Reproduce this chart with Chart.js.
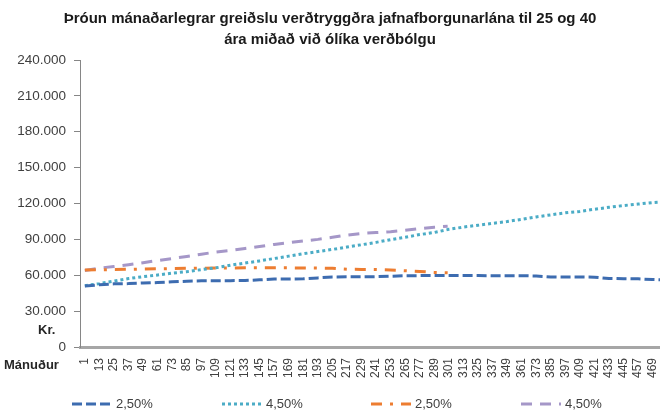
<!DOCTYPE html>
<html>
<head>
<meta charset="utf-8">
<script src="https://cdn.jsdelivr.net/npm/chart.js@4"></script>
<style>
    body { margin: 0; background: #ffffff; }
</style>
</head>
<body>
<canvas id="chart" width="660" height="413"></canvas>
<script>
// mánuðir sem gildin eru lesin á (á 12 mánaða fresti)
const monthsLong = [1, 13, 25, 37, 49, 61, 73, 85, 97, 109, 121, 133, 145, 157, 169, 181, 193, 205, 217, 229,
    241, 253, 265, 277, 289, 301, 313, 325, 337, 349, 361, 373, 385, 397, 409, 421, 433, 445, 457, 469, 480];
const monthsShort = [1, 13, 25, 37, 49, 61, 73, 85, 97, 109, 121, 133, 145, 157, 169, 181, 193, 205, 217, 229,
    241, 253, 265, 277, 289, 300];
const tickMonths = [1, 13, 25, 37, 49, 61, 73, 85, 97, 109, 121, 133, 145, 157, 169, 181, 193, 205, 217, 229,
    241, 253, 265, 277, 289, 301, 313, 325, 337, 349, 361, 373, 385, 397, 409, 421, 433, 445, 457, 469];
const yTicks = [0, 30000, 60000, 90000, 120000, 150000, 180000, 210000, 240000];

const seriesLabels = ["2,50%", "4,50%", "2,50%", "4,50%"];

// 40 ára lán
const loan40Low = [51000, 52000, 52800, 53000, 53500, 53900, 54500, 55000, 55300, 55400, 55500, 55600, 56200, 56800,
    56800, 57000, 57800, 58600, 58700, 58700, 58800, 59200, 59600, 59700, 59700, 59700, 59700, 59700, 59600, 59600,
    59600, 59400, 58600, 58500, 58500, 58400, 57300, 57100, 57000, 56400, 56100];
const loan40High = [51300, 53000, 55200, 57200, 58800, 60200, 61800, 63000, 64700, 66200, 68400, 70200, 72000, 74000,
    76000, 78000, 79800, 81600, 83600, 85500, 87500, 89800, 91800, 94000, 95800, 98400, 100300, 101800, 103400, 104900,
    106800, 108800, 110500, 112200, 113400, 115200, 116800, 118300, 119500, 120800, 121500];
// 25 ára lán
const loan25Low = [64300, 64600, 64800, 65000, 65200, 65400, 65600, 65800, 65900, 66000, 66100, 66200, 66200, 66200,
    66200, 66100, 66000, 65800, 65000, 64900, 64800, 64400, 63800, 63200, 62400, 62000];
const loan25High = [64000, 66000, 67300, 68800, 70500, 72300, 74000, 75700, 77600, 79400, 80700, 82400, 84000, 85800,
    87200, 88600, 90000, 91700, 93600, 95000, 95700, 96400, 97600, 98900, 100200, 101000];

function points(months, values) {
    return months.map((m, i) => ({ x: m, y: values[i] }));
}

function thousands(v) {
    return String(v).replace(/\B(?=(\d{3})+(?!\d))/g, ".");
}

// ásaheiti og skýringar teiknuð á föstum stöðum eins og í Excel
const extras = {
    id: "extras",
    afterDraw(chart) {
        const ctx = chart.ctx;
        ctx.save();
        ctx.fillStyle = "#262626";
        ctx.font = "bold 13px 'Liberation Sans'";
        ctx.textBaseline = "middle";
        ctx.textAlign = "left";
        ctx.fillText("Kr.", 38, 330);
        ctx.fillText("Mánuður", 4, 365);

        const starts = [72, 222, 371, 521];
        ctx.font = "13px 'Liberation Sans'";
        chart.data.datasets.forEach((ds, i) => {
            const x = starts[i];
            ctx.strokeStyle = ds.borderColor;
            ctx.lineWidth = ds.borderWidth;
            ctx.setLineDash(ds.borderDash);
            ctx.beginPath();
            ctx.moveTo(x, 404);
            ctx.lineTo(x + 40, 404);
            ctx.stroke();
            ctx.setLineDash([]);
            ctx.fillStyle = "#404040";
            ctx.fillText(ds.label, x + 44, 404);
        });
        ctx.restore();
    }
};

new Chart(document.getElementById("chart"), {
    type: "line",
    data: {
        datasets: [{
            label: seriesLabels[0],
            data: points(monthsLong, loan40Low),
            borderColor: "#3D6CB0",
            borderDash: [10, 4],
            borderWidth: 3
        }, {
            label: seriesLabels[1],
            data: points(monthsLong, loan40High),
            borderColor: "#4BACC6",
            borderDash: [3, 3],
            borderWidth: 3
        }, {
            label: seriesLabels[2],
            data: points(monthsShort, loan25Low),
            borderColor: "#ED7D31",
            borderDash: [11, 8, 3, 8],
            borderWidth: 3
        }, {
            label: seriesLabels[3],
            data: points(monthsShort, loan25High),
            borderColor: "#A597C8",
            borderDash: [11, 8],
            borderWidth: 3
        }]
    },
    options: {
        responsive: false,
        maintainAspectRatio: false,
        animation: false,
        elements: {
            point: { radius: 0 },
            line: { tension: 0, fill: false }
        },
        layout: { padding: { left: 0, right: 0, top: 0, bottom: 31 } },
        plugins: {
            title: {
                display: true,
                text: ["Þróun mánaðarlegrar greiðslu verðtryggðra jafnafborgunarlána til 25 og 40", "ára miðað við ólíka verðbólgu"],
                color: "#1a1a1a",
                font: { family: "'Liberation Sans'", size: 15, weight: "bold", lineHeight: 1.4 },
                padding: { top: 8, bottom: 10 }
            },
            legend: { display: false },
            tooltip: { enabled: false }
        },
        scales: {
            x: {
                type: "linear",
                min: -3,
                max: 475,
                afterBuildTicks: scale => {
                    scale.ticks = tickMonths.map(v => ({ value: v }));
                },
                afterFit: scale => {
                    scale.height = 35;
                    scale.paddingLeft = 0;
                    scale.paddingRight = 0;
                },
                ticks: {
                    autoSkip: false,
                    maxRotation: 90,
                    minRotation: 90,
                    padding: 3,
                    color: "#404040",
                    font: { family: "'Liberation Sans'", size: 12 }
                },
                grid: { display: false },
                border: { display: true, color: "#A6A6A6", width: 3 }
            },
            y: {
                min: 0,
                max: 240000,
                afterBuildTicks: scale => {
                    scale.ticks = yTicks.map(v => ({ value: v }));
                },
                afterFit: scale => {
                    scale.width = 80;
                },
                ticks: {
                    callback: v => thousands(v),
                    padding: 8,
                    color: "#404040",
                    font: { family: "'Liberation Sans'", size: 13.5 }
                },
                grid: {
                    drawOnChartArea: false,
                    drawTicks: true,
                    tickLength: 6,
                    color: "#868686"
                },
                border: { display: true, color: "#868686", width: 1 }
            }
        }
    },
    plugins: [extras]
});
</script>
</body>
</html>
